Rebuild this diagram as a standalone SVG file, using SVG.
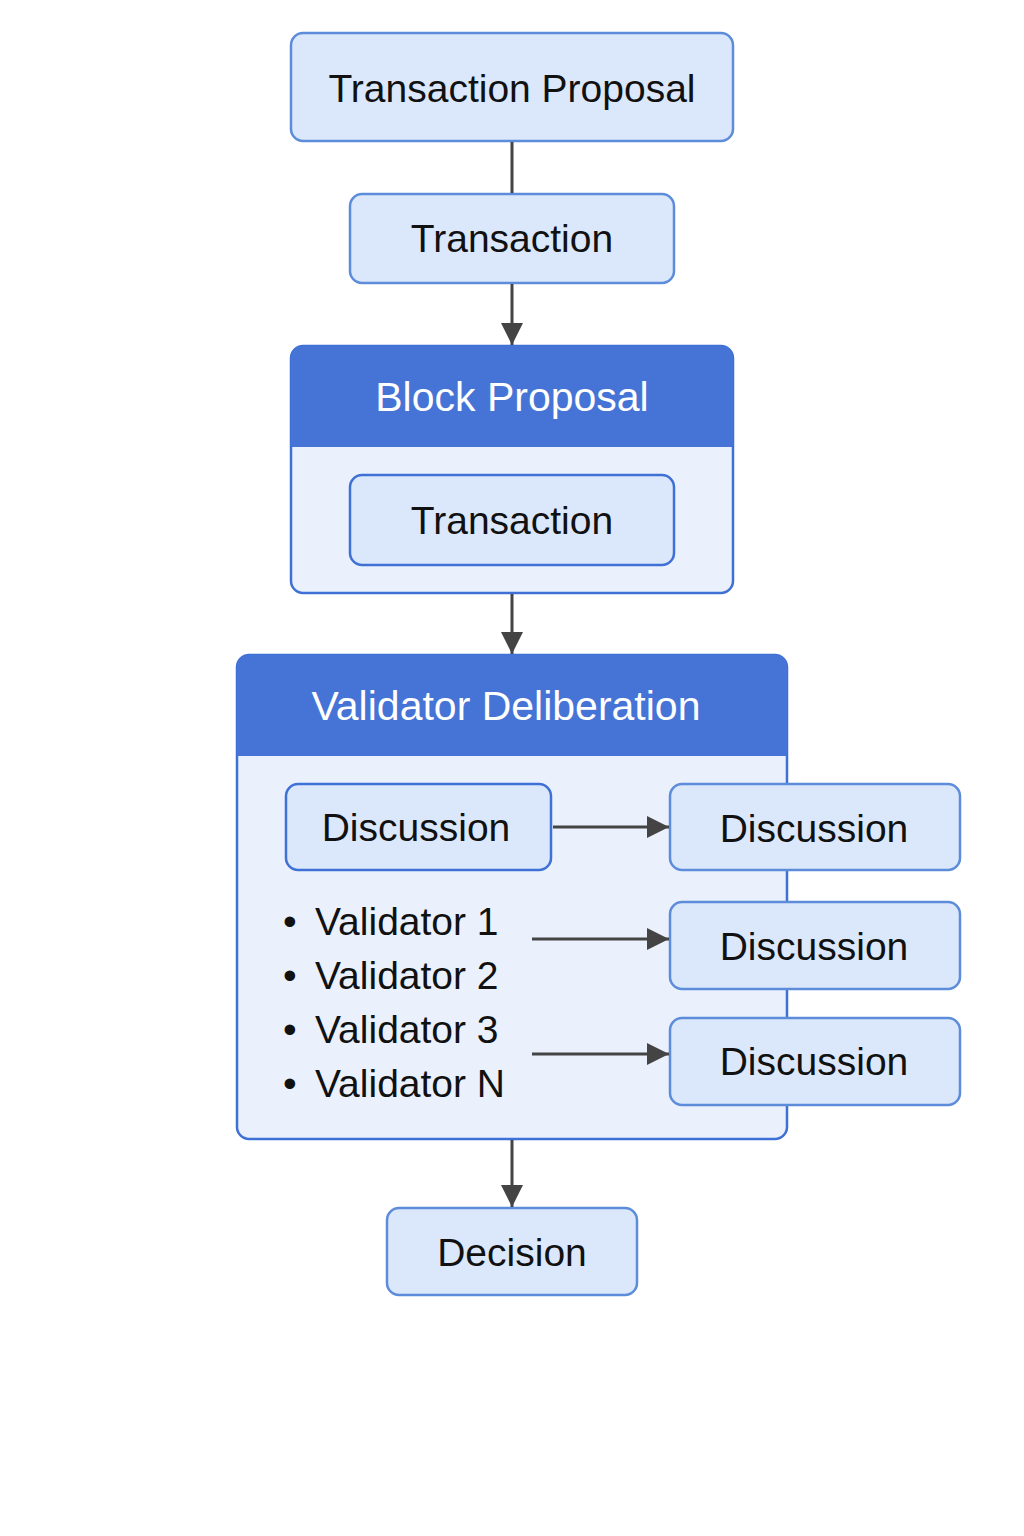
<svg xmlns="http://www.w3.org/2000/svg" width="1024" height="1536" viewBox="0 0 1024 1536">
<style>
.box{fill:#dbe8fc;stroke:#5d8cda;stroke-width:2.5}
.ibox{fill:#dbe8fc;stroke:#3f70d6;stroke-width:2.5}
.cont{fill:#eaf1fd;stroke:#3f70d6;stroke-width:2.5}
.hdr{fill:#4674d6}
.t{font-family:"Liberation Sans",Arial,sans-serif;font-size:39px;fill:#111;text-anchor:middle}
.h{font-family:"Liberation Sans",Arial,sans-serif;font-size:41px;fill:#fff;text-anchor:middle}
.l{font-family:"Liberation Sans",Arial,sans-serif;font-size:39px;fill:#111}
.c{stroke:#444;stroke-width:3;fill:none}
</style>
<defs>
<marker id="ah" markerUnits="userSpaceOnUse" markerWidth="24" markerHeight="24" viewBox="0 0 24 24" refX="22" refY="12" orient="auto">
<path d="M0,1 L22,12 L0,23 Z" fill="#444"/>
</marker>
</defs>
<rect width="1024" height="1536" fill="#fff"/>
<g id="transaction-proposal">
<rect class="box" x="291" y="33" width="442" height="108" rx="12"/>
<text class="t" x="512" y="102">Transaction Proposal</text>
</g>
<g id="transaction">
<rect class="box" x="350" y="194" width="324" height="89" rx="12"/>
<text class="t" x="512" y="252">Transaction</text>
</g>
<g id="block-proposal">
<rect class="cont" x="291" y="346" width="442" height="247" rx="12"/>
<path class="hdr" d="M291,447 V358 a12,12 0 0 1 12,-12 H721 a12,12 0 0 1 12,12 V447 Z"/>
<text class="h" x="512" y="411">Block Proposal</text>
</g>
<g id="block-transaction">
<rect class="ibox" x="350" y="475" width="324" height="90" rx="12"/>
<text class="t" x="512" y="534">Transaction</text>
</g>
<g id="validator-deliberation">
<rect class="cont" x="237" y="655" width="550" height="484" rx="12"/>
<path class="hdr" d="M237,756 V667 a12,12 0 0 1 12,-12 H775 a12,12 0 0 1 12,12 V756 Z"/>
<text class="h" x="506" y="720">Validator Deliberation</text>
</g>
<g id="discussion-inner">
<rect class="ibox" x="286" y="784" width="265" height="86" rx="12"/>
<text class="t" x="416" y="841">Discussion</text>
</g>
<g id="validators">
<text class="l" x="283" y="935">•<tspan x="315">Validator 1</tspan></text>
<text class="l" x="283" y="989">•<tspan x="315">Validator 2</tspan></text>
<text class="l" x="283" y="1043">•<tspan x="315">Validator 3</tspan></text>
<text class="l" x="283" y="1097">•<tspan x="315">Validator N</tspan></text>
</g>
<g id="discussion-1">
<rect class="box" x="670" y="784" width="290" height="86" rx="12"/>
<text class="t" x="814" y="842">Discussion</text>
</g>
<g id="discussion-2">
<rect class="box" x="670" y="902" width="290" height="87" rx="12"/>
<text class="t" x="814" y="960">Discussion</text>
</g>
<g id="discussion-3">
<rect class="box" x="670" y="1018" width="290" height="87" rx="12"/>
<text class="t" x="814" y="1075">Discussion</text>
</g>
<g id="decision">
<rect class="box" x="387" y="1208" width="250" height="87" rx="12"/>
<text class="t" x="512" y="1266">Decision</text>
</g>
<g id="connectors">
<line class="c" x1="512" y1="142" x2="512" y2="193"/>
<line class="c" x1="512" y1="284" x2="512" y2="345" marker-end="url(#ah)"/>
<line class="c" x1="512" y1="594" x2="512" y2="654" marker-end="url(#ah)"/>
<line class="c" x1="553" y1="827" x2="669" y2="827" marker-end="url(#ah)"/>
<line class="c" x1="532" y1="939" x2="669" y2="939" marker-end="url(#ah)"/>
<line class="c" x1="532" y1="1054" x2="669" y2="1054" marker-end="url(#ah)"/>
<line class="c" x1="512" y1="1140" x2="512" y2="1207" marker-end="url(#ah)"/>
</g>
</svg>
